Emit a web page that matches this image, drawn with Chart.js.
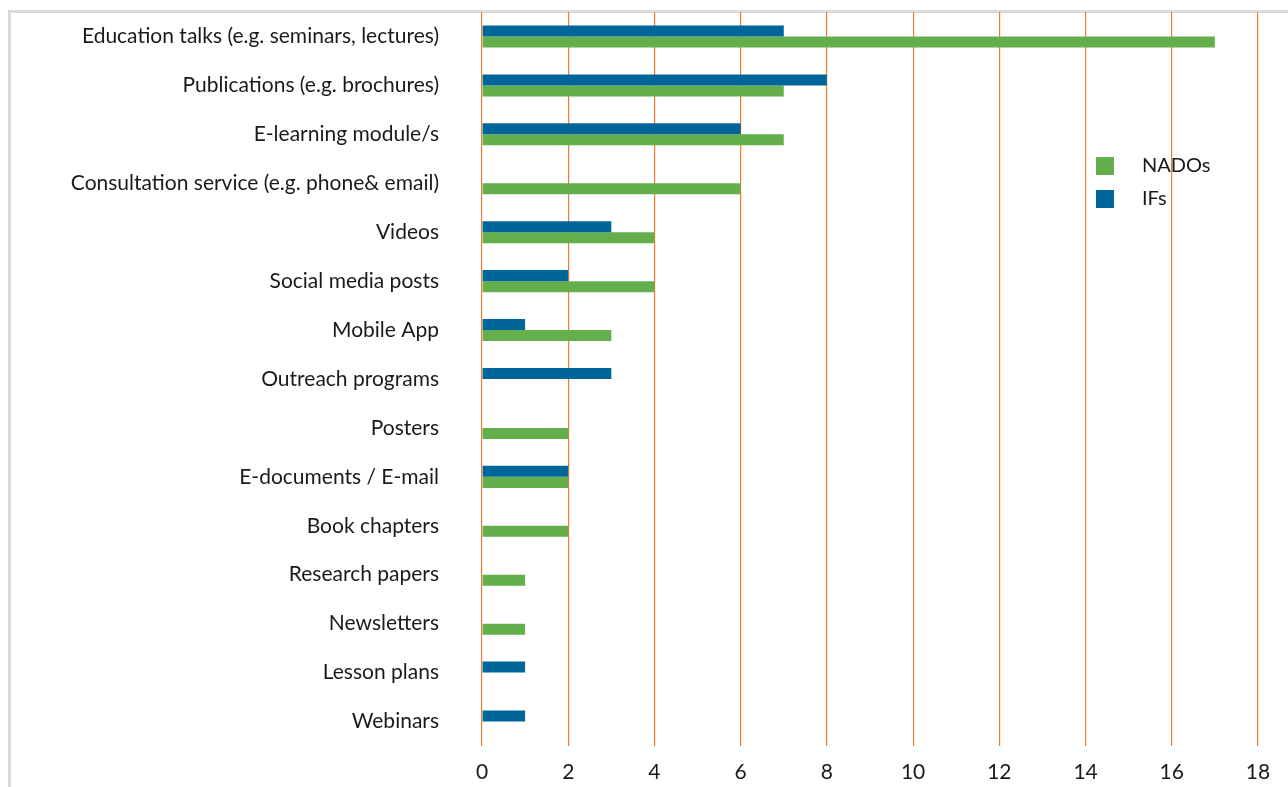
<!DOCTYPE html>
<html>
<head>
<meta charset="utf-8">
<title>Education formats: NADOs vs IFs</title>
<script src="https://cdn.jsdelivr.net/npm/chart.js@4.4.1/dist/chart.umd.min.js"></script>
<style>
  html, body { margin: 0; padding: 0; background: #fff; }
  body { width: 1288px; height: 787px; position: relative; overflow: hidden; }
  .frame {
    position: absolute; left: 8px; top: 10px; width: 1300px; height: 800px;
    border-left: 3px solid #dadada; border-top: 3px solid #dadada;
  }
  #chart { position: absolute; left: 0; top: 0; }
</style>
</head>
<body>
<div class="frame"></div>
<canvas id="chart" width="1288" height="787"></canvas>
<script>
// categories, top to bottom
const formats = [
  'Education talks (e.g. seminars, lectures)',
  'Publications (e.g. brochures)',
  'E-learning module/s',
  'Consultation service (e.g. phone& email)',
  'Videos',
  'Social media posts',
  'Mobile App',
  'Outreach programs',
  'Posters',
  'E-documents / E-mail',
  'Book chapters',
  'Research papers',
  'Newsletters',
  'Lesson plans',
  'Webinars'
];
// number of organisations using each format (null = none)
const ifsCounts   = [7, 8, 6, null, 3, 2, 1, 3, null, 2, null, null, null, 1, 1];
const nadosCounts = [17, 7, 7, 6, 4, 4, 3, null, 2, 2, 2, 1, 1, null, null];
const xTicks = [0, 2, 4, 6, 8, 10, 12, 14, 16, 18];

const BLUE = '#006699';
const GREEN = '#65ae4c';
const FONT = 'Lato, "Open Sans", sans-serif';

// legend drawn inside the plot area, NADOs listed first
const insideLegend = {
  id: 'insideLegend',
  afterDraw(chart) {
    const ctx = chart.ctx;
    const items = chart.data.datasets.slice().reverse();
    ctx.save();
    ctx.font = '20px ' + FONT;
    ctx.textBaseline = 'middle';
    items.forEach((ds, i) => {
      const y = 166 + i * 33;
      ctx.fillStyle = ds.backgroundColor;
      ctx.fillRect(1096, y - 9, 18, 18);
      ctx.fillStyle = '#1a1a1a';
      ctx.fillText(ds.label, 1142, y);
    });
    ctx.restore();
  }
};

new Chart(document.getElementById('chart'), {
  type: 'bar',
  data: {
    labels: formats,
    datasets: [
      { label: 'IFs', data: ifsCounts, backgroundColor: BLUE },
      { label: 'NADOs', data: nadosCounts, backgroundColor: GREEN }
    ]
  },
  options: {
    indexAxis: 'y',
    responsive: false,
    animation: false,
    datasets: { bar: { categoryPercentage: 0.45, barPercentage: 1.0 } },
    layout: { padding: { top: 12, right: 30, bottom: 3, left: 0 } },
    plugins: { legend: { display: false }, tooltip: { enabled: false } },
    scales: {
      x: {
        min: 0, max: 18,
        afterBuildTicks: s => { s.ticks = xTicks.map(v => ({ value: v })); },
        afterFit: s => { s.height = 38; s.paddingTop = 0; s.paddingBottom = 0; },
        grid: { color: '#ed7d31', lineWidth: 1.2, drawTicks: false },
        border: { display: false },
        ticks: { color: '#1a1a1a', font: { family: FONT, size: 21 }, padding: 14, maxRotation: 0 }
      },
      y: {
        // fixed label column; drop the extra top/bottom room the tick padding adds
        afterFit: s => { s.width = 482; s.paddingTop = 0; s.paddingBottom = 0; },
        grid: { display: false, drawTicks: false },
        border: { display: false },
        ticks: { color: '#1a1a1a', font: { family: FONT, size: 21 }, padding: 43, autoSkip: false }
      }
    }
  },
  plugins: [insideLegend]
});
</script>
</body>
</html>
